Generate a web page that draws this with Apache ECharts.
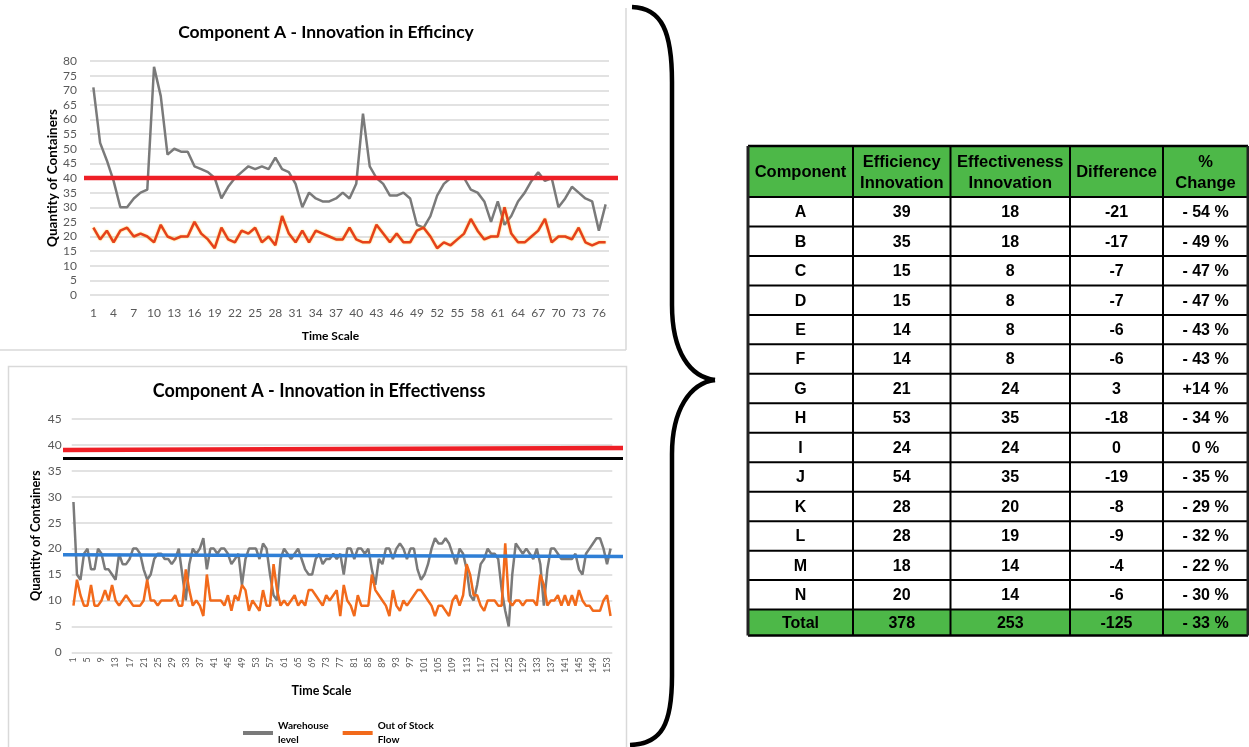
<!DOCTYPE html>
<html>
<head>
<meta charset="utf-8">
<script src="https://cdn.jsdelivr.net/npm/echarts@6/dist/echarts.min.js"></script>
<style>
  html, body { margin: 0; padding: 0; background: #ffffff; }
  #main { width: 1249px; height: 747px; }
</style>
</head>
<body>
<div id="main"></div>
<script>
// ---- Efficiency innovation run (upper chart), 77 time steps ----
const effTime = Array.from({ length: 77 }, (_, i) => String(i + 1));
const effWarehouse = [
  71, 52, 46, 39, 30, 30, 33, 35, 36, 78,
  68, 48, 50, 49, 49, 44, 43, 42, 40, 33,
  37, 40, 42, 44, 43, 44, 43, 47, 43, 42,
  38, 30, 35, 33, 32, 32, 33, 35, 33, 38,
  62, 44, 40, 38, 34, 34, 35, 33, 24, 23,
  27, 34, 38, 40, 40, 40, 36, 35, 32, 25,
  32, 24, 27, 32, 35, 39, 42, 39, 40, 30,
  33, 37, 35, 33, 32, 22, 31
];
const effOutOfStock = [
  23, 19, 22, 18, 22, 23, 20, 21, 20, 18,
  24, 20, 19, 20, 20, 25, 21, 19, 16, 23,
  19, 18, 22, 21, 23, 18, 20, 17, 27, 21,
  18, 22, 18, 22, 21, 20, 19, 19, 23, 19,
  18, 18, 24, 21, 18, 21, 18, 18, 22, 23,
  20, 16, 18, 17, 19, 21, 26, 22, 19, 20,
  20, 30, 21, 18, 18, 20, 22, 26, 18, 20,
  20, 19, 23, 18, 17, 18, 18
];
const effLimit = [40, 40];

// ---- Effectiveness innovation run (lower chart), 154 time steps ----
const fxTime = Array.from({ length: 154 }, (_, i) => String(i + 1));
const fxWarehouse = [
  29, 15, 14, 19, 20, 16, 16, 20, 19, 16,
  16, 15, 14, 19, 17, 17, 18, 20, 20, 19,
  16, 14, 15, 18, 19, 19, 18, 18, 17, 18,
  20, 15, 10, 17, 20, 19, 20, 22, 16, 20,
  20, 19, 20, 20, 19, 17, 18, 19, 13, 18,
  20, 20, 20, 18, 21, 20, 15, 11, 10, 18,
  20, 19, 18, 19, 20, 18, 16, 15, 15, 18,
  19, 17, 18, 18, 19, 18, 19, 15, 20, 20,
  18, 20, 20, 19, 20, 16, 13, 18, 17, 20,
  20, 18, 20, 21, 20, 18, 20, 20, 16, 14,
  15, 17, 20, 22, 21, 21, 22, 21, 19, 17,
  20, 19, 16, 11, 10, 13, 17, 18, 20, 19,
  19, 18, 12, 8, 5, 15, 21, 20, 19, 20,
  19, 18, 20, 17, 9, 16, 20, 20, 19, 18,
  18, 18, 18, 19, 16, 15, 19, 20, 21, 22,
  22, 20, 17, 20
];
const fxOutOfStock = [
  9, 14, 11, 9, 9, 13, 9, 9, 10, 12,
  10, 13, 10, 9, 10, 11, 10, 9, 9, 9,
  10, 14, 10, 10, 9, 10, 10, 10, 10, 11,
  9, 9, 16, 12, 9, 10, 9, 7, 15, 10,
  10, 10, 10, 9, 11, 8, 11, 10, 13, 12,
  8, 10, 9, 8, 12, 9, 9, 17, 12, 9,
  10, 9, 10, 11, 9, 10, 9, 12, 12, 11,
  10, 9, 11, 10, 11, 12, 7, 13, 10, 9,
  7, 11, 9, 9, 9, 15, 12, 11, 10, 9,
  7, 12, 9, 8, 10, 9, 10, 11, 12, 12,
  11, 10, 9, 7, 9, 9, 8, 7, 10, 11,
  9, 11, 17, 15, 11, 11, 9, 8, 10, 10,
  10, 9, 9, 21, 10, 9, 10, 10, 9, 10,
  10, 10, 9, 15, 13, 9, 10, 10, 11, 9,
  11, 9, 11, 9, 12, 10, 9, 9, 8, 8,
  8, 10, 11, 7
];
const fxUpperLimit = [39.0, 39.4];
const fxCapacity = [37.4, 37.4];
const fxMeanLevel = [18.8, 18.5];

// ---- Summary table ----
const tableHeader = ['Component', 'Efficiency\nInnovation', 'Effectiveness\nInnovation', 'Difference', '%\nChange'];
const components = ['A', 'B', 'C', 'D', 'E', 'F', 'G', 'H', 'I', 'J', 'K', 'L', 'M', 'N'];
const efficiency = [39, 35, 15, 15, 14, 14, 21, 53, 24, 54, 28, 28, 18, 20];
const effectiveness = [18, 18, 8, 8, 8, 8, 24, 35, 24, 35, 20, 19, 14, 14];
const difference = [-21, -17, -7, -7, -6, -6, 3, -18, 0, -19, -8, -9, -4, -6];
const pctChange = ['- 54 %', '- 49 %', '- 47 %', '- 47 %', '- 43 %', '- 43 %', '+14 %', '- 34 %', '0 %', '- 35 %', '- 29 %', '- 32 %', '- 22 %', '- 30 %'];
const totalRow = ['Total', '378', '253', '-125', '- 33 %'];

// ---- drawing ----
const chartFont = 'Lato, "Open Sans", sans-serif';
const tableFont = '"Liberation Sans", Arial, sans-serif';
const tickColor = '#595959';
const gridLineColor = '#d9d9d9';

function textEl(text, x, y, size, weight, family, color, lineHeight) {
  return {
    type: 'text', silent: true, z: 20,
    style: {
      text: text, x: x, y: y,
      align: 'center', verticalAlign: 'middle',
      textAlign: 'center', textVerticalAlign: 'middle',
      fontSize: size, fontWeight: weight, fontFamily: family,
      fill: color, lineHeight: lineHeight || Math.round(size * 1.25)
    }
  };
}
function lineEl(x1, y1, x2, y2, color, width) {
  return {
    type: 'line', silent: true, z: 21,
    shape: { x1: x1, y1: y1, x2: x2, y2: y2 },
    style: { stroke: color, lineWidth: width }
  };
}
function curveEl(x1, y1, cpx1, cpy1, cpx2, cpy2, x2, y2, width) {
  return {
    type: 'bezierCurve', silent: true, z: 21,
    shape: { x1: x1, y1: y1, cpx1: cpx1, cpy1: cpy1, cpx2: cpx2, cpy2: cpy2, x2: x2, y2: y2 },
    style: { stroke: '#000', fill: null, lineWidth: width }
  };
}

// table geometry
const colX = [748, 853, 950.5, 1070, 1163, 1248];
const headTop = 146, headBottom = 197, rowH = 29.47;
const bodyBottom = headBottom + rowH * components.length;
const tableBottom = 635.5;
const green = '#4db848';

const tableEls = [];
tableEls.push({ type: 'rect', silent: true, z: 19, shape: { x: colX[0], y: headTop, width: colX[5] - colX[0], height: headBottom - headTop }, style: { fill: green } });
tableEls.push({ type: 'rect', silent: true, z: 19, shape: { x: colX[0], y: bodyBottom, width: colX[5] - colX[0], height: tableBottom - bodyBottom }, style: { fill: green } });

tableHeader.forEach((h, c) => {
  tableEls.push(textEl(h, (colX[c] + colX[c + 1]) / 2, (headTop + headBottom) / 2 + 1, 16.5, 'bold', tableFont, '#000', 21));
});
components.forEach((name, r) => {
  const cy = headBottom + rowH * (r + 0.5) + 1;
  const cells = [name, String(efficiency[r]), String(effectiveness[r]), String(difference[r]), pctChange[r]];
  cells.forEach((t, c) => {
    tableEls.push(textEl(t, (colX[c] + colX[c + 1]) / 2, cy, 16, 'bold', tableFont, '#000'));
  });
});
totalRow.forEach((t, c) => {
  tableEls.push(textEl(t, (colX[c] + colX[c + 1]) / 2, (bodyBottom + tableBottom) / 2 + 1, 16, 'bold', tableFont, '#000'));
});
// rules of the table
const hLines = [headTop, headBottom];
for (let r = 1; r <= components.length; r++) hLines.push(headBottom + rowH * r);
hLines.push(tableBottom);
hLines.forEach((y, i) => {
  const outer = (i === 0 || i === hLines.length - 1);
  tableEls.push(lineEl(colX[0], y, colX[5], y, '#000', outer ? 2.5 : 2));
});
colX.forEach((x, i) => {
  const outer = (i === 0 || i === colX.length - 1);
  tableEls.push(lineEl(x, headTop, x, tableBottom, outer ? '#222' : '#000', outer ? 3 : 2));
});

// curly brace joining both runs to the table
const braceEls = [
  curveEl(632, 7, 662, 8, 672, 32, 672, 82, 4.5),
  lineEl(672, 82, 672, 305, '#000', 4.5),
  curveEl(672, 305, 672, 352, 690, 377, 715, 380, 4.5),
  curveEl(715, 380, 690, 383, 672, 410, 672, 454, 4.5),
  lineEl(672, 454, 672, 676, '#000', 4.5),
  curveEl(672, 676, 672, 724, 662, 744, 630, 745, 4.5)
];

const chart = echarts.init(document.getElementById('main'), null, { renderer: 'canvas' });

const option = {
  backgroundColor: '#ffffff',
  animation: false,
  textStyle: { fontFamily: chartFont },
  grid: [
    { left: 90, top: 61, width: 519, height: 234 },
    { left: 84, top: 61, width: 534, height: 234 },
    { left: 71.7, top: 419, width: 540.6, height: 233.3 },
    { left: 63, top: 419, width: 560, height: 233.3 }
  ],
  legend: {
    data: ['Warehouse\nlevel', 'Out of Stock\nFlow'],
    left: 238, top: 714,
    icon: 'rect', itemWidth: 30, itemHeight: 4, itemGap: 14,
    textStyle: { fontFamily: chartFont, fontWeight: 'bold', fontSize: 10, color: '#000', lineHeight: 14 }
  },
  xAxis: [
    {
      type: 'category', gridIndex: 0, data: effTime, boundaryGap: true,
      axisLine: { show: false }, axisTick: { show: false },
      axisLabel: { interval: 2, color: tickColor, fontSize: 12, margin: 12, fontFamily: chartFont },
      name: 'Time Scale', nameLocation: 'middle', nameGap: 35,
      nameTextStyle: { fontWeight: 'bold', fontSize: 12, color: '#000', fontFamily: chartFont, padding: [0, 38, 0, 0] }
    },
    { type: 'category', gridIndex: 1, data: ['', ''], boundaryGap: false, show: false },
    {
      type: 'category', gridIndex: 2, data: fxTime, boundaryGap: true,
      axisLine: { show: false }, axisTick: { show: false },
      axisLabel: { interval: 3, rotate: 90, color: tickColor, fontSize: 9, margin: 5, fontFamily: chartFont },
      name: 'Time Scale', nameLocation: 'middle', nameGap: 32,
      nameTextStyle: { fontWeight: 'bold', fontSize: 12.5, color: '#000', fontFamily: chartFont, padding: [0, 41, 0, 0] }
    },
    { type: 'category', gridIndex: 3, data: ['', ''], boundaryGap: false, show: false }
  ],
  yAxis: [
    {
      type: 'value', gridIndex: 0, min: 0, max: 80, interval: 5,
      axisLine: { show: false }, axisTick: { show: false },
      axisLabel: { color: tickColor, fontSize: 12, margin: 13, fontFamily: chartFont },
      splitLine: { lineStyle: { color: gridLineColor, width: 1.5 } },
      name: 'Quantity of Containers', nameLocation: 'middle', nameRotate: 90, nameGap: 30,
      nameTextStyle: { fontWeight: 'bold', fontSize: 13.5, color: '#000', fontFamily: chartFont }
    },
    { type: 'value', gridIndex: 1, min: 0, max: 80, show: false },
    {
      type: 'value', gridIndex: 2, min: 0, max: 45, interval: 5,
      axisLine: { show: false }, axisTick: { show: false },
      axisLabel: { color: tickColor, fontSize: 12, margin: 10, fontFamily: chartFont },
      splitLine: { lineStyle: { color: gridLineColor, width: 1.5 } },
      name: 'Quantity of Containers', nameLocation: 'middle', nameRotate: 90, nameGap: 29,
      nameTextStyle: { fontWeight: 'bold', fontSize: 12.8, color: '#000', fontFamily: chartFont }
    },
    { type: 'value', gridIndex: 3, min: 0, max: 45, show: false }
  ],
  series: [
    {
      name: 'Efficiency warehouse level', type: 'line', xAxisIndex: 0, yAxisIndex: 0,
      data: effWarehouse, showSymbol: false, z: 3,
      lineStyle: { color: '#7a7a7a', width: 2.5 }, itemStyle: { color: '#7a7a7a' }
    },
    {
      name: 'Efficiency out of stock flow', type: 'line', xAxisIndex: 0, yAxisIndex: 0,
      data: effOutOfStock, showSymbol: false, z: 4,
      lineStyle: { color: '#e6411b', width: 2.5, shadowColor: 'rgba(255,190,0,0.7)', shadowBlur: 2 },
      itemStyle: { color: '#e6411b' }
    },
    {
      name: 'Efficiency limit', type: 'line', xAxisIndex: 1, yAxisIndex: 1,
      data: effLimit, showSymbol: false, z: 6,
      lineStyle: { color: '#ee1f26', width: 4.5 }, itemStyle: { color: '#ee1f26' }
    },
    {
      name: 'Warehouse\nlevel', type: 'line', xAxisIndex: 2, yAxisIndex: 2,
      data: fxWarehouse, showSymbol: false, z: 3,
      lineStyle: { color: '#7a7a7a', width: 2.5 }, itemStyle: { color: '#7a7a7a' }
    },
    {
      name: 'Out of Stock\nFlow', type: 'line', xAxisIndex: 2, yAxisIndex: 2,
      data: fxOutOfStock, showSymbol: false, z: 4,
      lineStyle: { color: '#f26a1b', width: 2.5 }, itemStyle: { color: '#f26a1b' }
    },
    {
      name: 'Effectiveness upper limit', type: 'line', xAxisIndex: 3, yAxisIndex: 3,
      data: fxUpperLimit, showSymbol: false, z: 6,
      lineStyle: { color: '#ee1f26', width: 4.5 }, itemStyle: { color: '#ee1f26' }
    },
    {
      name: 'Effectiveness capacity', type: 'line', xAxisIndex: 3, yAxisIndex: 3,
      data: fxCapacity, showSymbol: false, z: 6,
      lineStyle: { color: '#000000', width: 3 }, itemStyle: { color: '#000000' }
    },
    {
      name: 'Effectiveness mean level', type: 'line', xAxisIndex: 3, yAxisIndex: 3,
      data: fxMeanLevel, showSymbol: false, z: 6,
      lineStyle: { color: '#2f7fd6', width: 3.5 }, itemStyle: { color: '#2f7fd6' }
    }
  ],
  graphic: [
    // chart frames
    lineEl(626, 8, 626, 350, '#d9d9d9', 1.5),
    lineEl(0, 350, 626, 350, '#d9d9d9', 1.5),
    { type: 'rect', silent: true, z: -1, shape: { x: 8.5, y: 366.5, width: 618, height: 390 }, style: { fill: 'none', stroke: '#d9d9d9', lineWidth: 1.5 } },
    // chart titles
    textEl('Component A - Innovation in Efficincy', 326, 32, 17.5, 'bold', chartFont, '#000'),
    textEl('Component A - Innovation in Effectivenss', 319, 391, 18, 'bold', chartFont, '#000')
  ].concat(braceEls, tableEls)
};

chart.setOption(option);
</script>
</body>
</html>
